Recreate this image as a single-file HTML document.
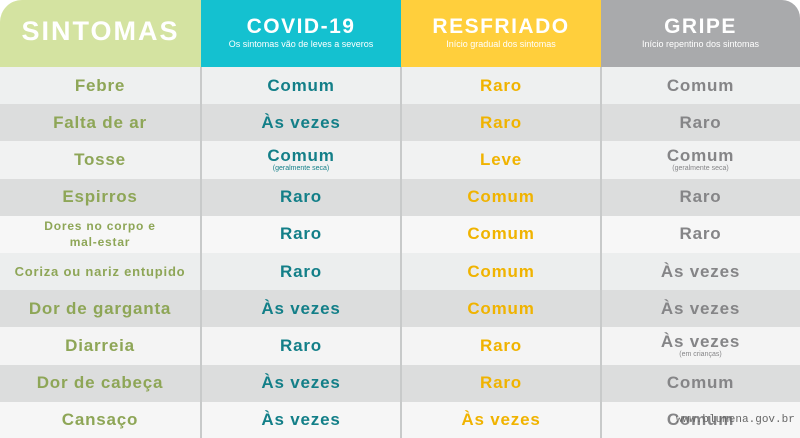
<!DOCTYPE html>
<html><head><meta charset="utf-8"><style>
*{margin:0;padding:0;box-sizing:border-box}
body{width:800px;height:438px;overflow:hidden;background:#fff;font-family:"Liberation Sans",sans-serif;font-weight:bold;position:relative}
.h{position:absolute;top:0;height:67px;color:#fff;text-align:center}
.h .t{font-size:21px;letter-spacing:1.5px;margin-top:16px;line-height:22px}
.h .s{font-size:9px;font-weight:normal;line-height:12px}
.row{position:absolute;left:0;width:800px;height:37.2px}
.c{position:absolute;top:0;height:100%;display:flex;flex-direction:column;justify-content:center;align-items:center;font-size:17px;letter-spacing:0.8px;line-height:18px;text-align:center}
.c small{font-size:7px;font-weight:normal;letter-spacing:0;line-height:8px;display:block}
.c0{left:0;width:200px;color:#8ea657}
.c1{left:201px;width:200px;color:#137f88}
.c2{left:401px;width:200px;color:#f0b300}
.c3{left:601px;width:199px;color:#858587}
.v{position:absolute;top:67px;width:2px;height:371px;background:#c8caca}
</style></head><body>
<div class="h" style="left:0;width:201px;background:#d4e3a1;border-top-left-radius:22px"><div class="t" style="font-size:27px;margin-top:20px;letter-spacing:2px">SINTOMAS</div></div>
<div class="h" style="left:201px;width:200px;background:#14c1d0"><div class="t">COVID-19</div><div class="s">Os sintomas vão de leves a severos</div></div>
<div class="h" style="left:401px;width:200px;background:#ffcf3c"><div class="t">RESFRIADO</div><div class="s">Início gradual dos sintomas</div></div>
<div class="h" style="left:601px;width:199px;background:#a9aaac;border-top-right-radius:18px"><div class="t">GRIPE</div><div class="s">Início repentino dos sintomas</div></div>

<div class="row" style="top:67px;background:#eef0f0"><div class="c c0">Febre</div><div class="c c1">Comum</div><div class="c c2">Raro</div><div class="c c3">Comum</div></div>
<div class="row" style="top:104.2px;background:#dcdddd"><div class="c c0">Falta de ar</div><div class="c c1">Às vezes</div><div class="c c2">Raro</div><div class="c c3">Raro</div></div>
<div class="row" style="top:141.4px;background:#f1f2f2"><div class="c c0">Tosse</div><div class="c c1">Comum<small>(geralmente seca)</small></div><div class="c c2">Leve</div><div class="c c3">Comum<small>(geralmente seca)</small></div></div>
<div class="row" style="top:178.6px;background:#dcdddd"><div class="c c0">Espirros</div><div class="c c1">Raro</div><div class="c c2">Comum</div><div class="c c3">Raro</div></div>
<div class="row" style="top:215.8px;background:#f7f7f7"><div class="c c0" style="font-size:12px;line-height:16px">Dores no corpo e<br>mal-estar</div><div class="c c1">Raro</div><div class="c c2">Comum</div><div class="c c3">Raro</div></div>
<div class="row" style="top:253px;background:#eceeee"><div class="c c0" style="font-size:13px">Coriza ou nariz entupido</div><div class="c c1">Raro</div><div class="c c2">Comum</div><div class="c c3">Às vezes</div></div>
<div class="row" style="top:290.2px;background:#dcdddd"><div class="c c0">Dor de garganta</div><div class="c c1">Às vezes</div><div class="c c2">Comum</div><div class="c c3">Às vezes</div></div>
<div class="row" style="top:327.4px;background:#f4f4f4"><div class="c c0">Diarreia</div><div class="c c1">Raro</div><div class="c c2">Raro</div><div class="c c3">Às vezes<small>(em crianças)</small></div></div>
<div class="row" style="top:364.6px;background:#dcdddd"><div class="c c0">Dor de cabeça</div><div class="c c1">Às vezes</div><div class="c c2">Raro</div><div class="c c3">Comum</div></div>
<div class="row" style="top:401.8px;height:36.2px;background:#f6f6f6"><div class="c c0">Cansaço</div><div class="c c1">Às vezes</div><div class="c c2">Às vezes</div><div class="c c3">Comum</div></div>

<div class="v" style="left:200px"></div>
<div class="v" style="left:400px"></div>
<div class="v" style="left:600px"></div>
<div style="position:absolute;left:676px;top:414px;font-size:11px;font-weight:normal;color:#666;font-family:'Liberation Mono',monospace;letter-spacing:0">www.blumena.gov.br</div>
</body></html>
